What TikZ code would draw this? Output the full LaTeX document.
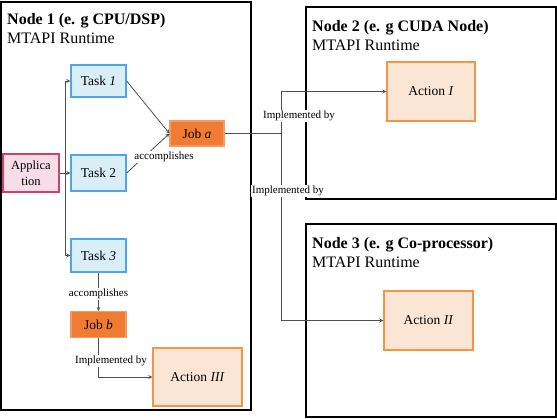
\documentclass[tikz,border=0pt]{standalone}
\usepackage{fontspec}
\setmainfont{Liberation Serif}
\usetikzlibrary{arrows, positioning}
\definecolor{taskfill}{HTML}{DAEEF7}
\definecolor{taskdraw}{HTML}{4BA6EE}
\definecolor{jobfill}{HTML}{F27B33}
\definecolor{jobdraw}{HTML}{F59A62}
\definecolor{appfill}{HTML}{F6DDE7}
\definecolor{appdraw}{HTML}{D0406B}
\definecolor{actfill}{HTML}{FBE5D5}
\definecolor{actdraw}{HTML}{F59445}
\definecolor{linegray}{HTML}{505050}

\begin{document}
\begin{tikzpicture}[x=1pt, y=-1pt]
				\tikzstyle{Box} = [rectangle, draw=black, line width=1.8pt, inner sep=0pt]
				\tikzstyle{Title} = [anchor=base west, inner sep=0pt, font=\fontsize{16}{19}\selectfont]
				\tikzstyle{Task} = [rectangle, minimum width=55pt, minimum height=33pt, text centered, draw=taskdraw, line width=1.3pt, fill=taskfill, font=\fontsize{13.5}{16}\selectfont]
				\tikzstyle{Job} = [rectangle, minimum width=55pt, minimum height=26pt, text centered, draw=jobdraw, line width=1.1pt, fill=jobfill, font=\fontsize{13.5}{16}\selectfont]
				\tikzstyle{App} = [rectangle, minimum width=56pt, minimum height=38pt, align=center, inner sep=1pt, draw=appdraw, line width=1.3pt, fill=appfill, font=\fontsize{12.5}{16}\selectfont]
				\tikzstyle{Action} = [rectangle, minimum width=89pt, minimum height=59pt, text centered, draw=actdraw, line width=1.3pt, fill=actfill, font=\fontsize{13.5}{16}\selectfont]
				\tikzstyle{Label} = [fill=white, inner sep=1pt, font=\fontsize{11}{13}\selectfont]
				\tikzstyle{arrow} = [linegray, line width=0.8pt, ->, >=stealth]
				\tikzstyle{wire} = [linegray, line width=0.8pt]

				\useasboundingbox (0,0) rectangle (557,418);

				\node (node1) [Box, minimum width=250pt, minimum height=408pt] at (126,206) {};
				\node (node2) [Box, minimum width=250pt, minimum height=192pt] at (431,103) {};
				\node (node3) [Box, minimum width=250pt, minimum height=193pt] at (431,320.5) {};

				\node (t1a) [Title] at (7,24) {\textbf{Node 1 (e. g CPU/DSP)}};
				\node (t1b) [Title] at (7,43) {MTAPI Runtime};
				\node (t2a) [Title] at (312,31) {\textbf{Node 2 (e. g CUDA Node)}};
				\node (t2b) [Title] at (312,50) {MTAPI Runtime};
				\node (t3a) [Title] at (312,248) {\textbf{Node 3 (e. g Co-processor)}};
				\node (t3b) [Title] at (312,267) {MTAPI Runtime};

				\node (app) [App] at (31,173) {Applica\\tion};
				\node (task1) [Task, minimum height=32pt] at (98.5,81) {Task \textit{1}};
				\node (task2) [Task, minimum height=36pt] at (98.5,173) {Task 2};
				\node (task3) [Task] at (98.5,255.5) {Task \textit{3}};
				\node (joba) [Job, minimum width=54pt, minimum height=25pt] at (197,133.5) {Job \textit{a}};
				\node (jobb) [Job] at (98.5,324.5) {Job \textit{b}};
				\node (act1) [Action, minimum width=88pt] at (431,91.5) {Action \textit{I}};
				\node (act2) [Action] at (428.5,320.5) {Action \textit{II}};
				\node (act3) [Action, minimum height=58pt] at (197.5,377) {Action \textit{III}};

				\coordinate (trunkTop) at (65,81);
				\coordinate (trunkBot) at (65,255.5);
				\coordinate (brTop) at (281,91.5);
				\coordinate (brBot) at (281,320.5);

				\draw [wire] (trunkTop) -- (trunkBot);
				\draw [arrow] (trunkTop) -- (task1.west);
				\draw [arrow] (trunkBot) -- (task3.west);
				\draw [arrow] (app.east) -- (task2.west);
				\draw [arrow] (task1.east) -- (joba.west);
				\draw [arrow] (task2.east) -- (joba.west);
				\draw [arrow] (task3.south) -- (jobb.north);
				\draw [arrow] (jobb.south) |- (act3.west);

				\draw [wire] (joba.east) -- (joba.east -| brTop);
				\draw [wire] (brTop) -- (brBot);
				\draw [arrow] (brTop) -- (act1.west);
				\draw [arrow] (brBot) -- (act2.west);

				\node (acc1) [Label] at (164,157) {accomplishes};
				\node (acc2) [Label] at (98.5,294) {accomplishes};
				\node (impl3) [Label] at (111,361) {Implemented by};
				\node (impl1) [Label] at (299,116) {Implemented by};
				\node (impl2) [Label] at (288,191) {Implemented by};
			\end{tikzpicture}
\end{document}
